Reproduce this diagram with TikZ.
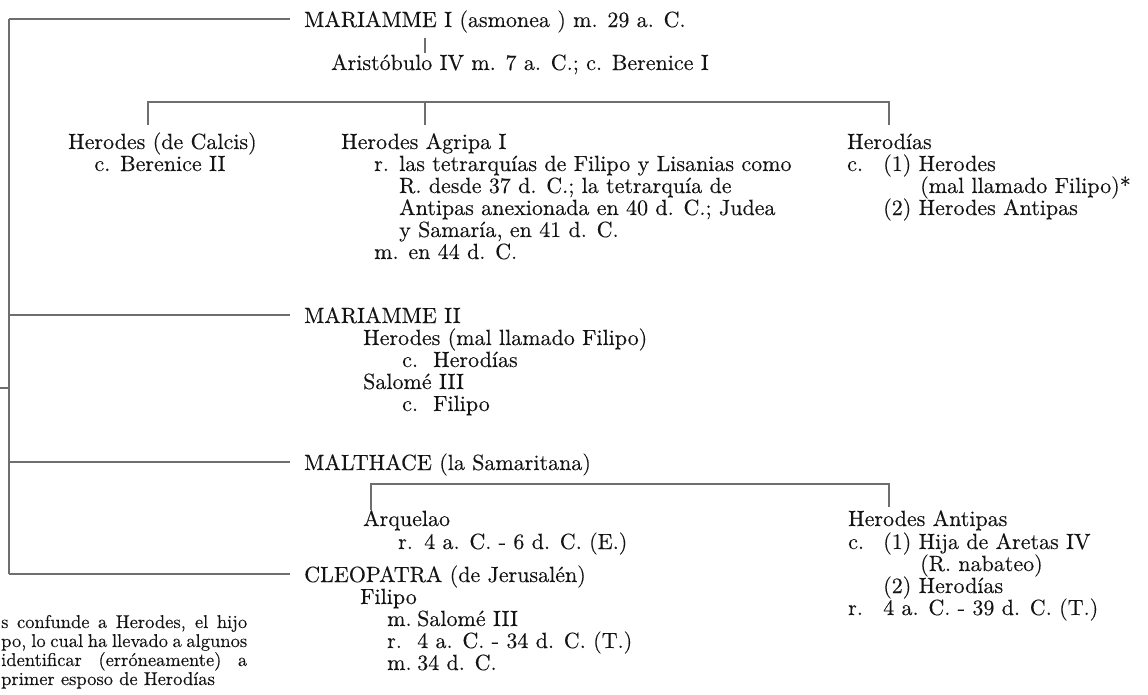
\documentclass[tikz,border=0pt]{standalone}
\usepackage{fontspec}
\setmainfont{lmroman10-regular}[Extension=.otf,FakeBold=0.25]
\definecolor{ln}{HTML}{6E6E6E}
\definecolor{tx}{HTML}{141414}
\begin{document}
\begin{tikzpicture}[x=1pt,y=-1pt,
  conn/.style={draw=ln,line width=1.9pt},
  thin/.style={draw=ln,line width=1.4pt},
  txt/.style={anchor=base west,inner sep=0pt,text=tx,font=\fontsize{22}{26}\selectfont},
  ctxt/.style={txt,anchor=base},
  note/.style={anchor=base west,inner sep=0pt,text=tx,font=\fontsize{18.5}{22}\selectfont}]
\useasboundingbox (0,0) rectangle (1148,694);

% ---- texts: Mariamme I branch
\node[txt] (m1) at (304,27) {MARIAMME I (asmonea ) m. 29 a. C.};
\node[txt] (ar) at (331,70) {Aristóbulo IV m. 7 a. C.; c. Berenice I};
\node[txt] (hc) at (68,149) {Herodes (de Calcis)};
\node[ctxt] (hc2) at (160,171) {c. Berenice II};
\node[txt] (ha) at (341,149) {Herodes Agripa I};
\node[txt] (har) at (374,171) {r.};
\node[txt] (ha1) at (399,171) {las tetrarquías de Filipo y Lisanias como};
\node[txt] (ha2) at (399,193) {R. desde 37 d. C.; la tetrarquía de};
\node[txt] (ha3) at (399,215) {Antipas anexionada en 40 d. C.; Judea};
\node[txt] (ha4) at (399,237) {y Samaría, en 41 d. C.};
\node[txt] (ham) at (374,259) {m. en 44 d. C.};
\node[txt] (hd) at (847,149) {Herodías};
\node[txt] (hdc) at (847,171) {c.};
\node[txt] (hd1) at (883,171) {(1) Herodes};
\node[txt] (hd1b) at (920,193) {(mal llamado Filipo)*};
\node[txt] (hd2) at (883,215) {(2) Herodes Antipas};

% ---- Mariamme II
\node[txt] (m2) at (304,323) {MARIAMME II};
\node[txt] (hf) at (363,345) {Herodes (mal llamado Filipo)};
\node[txt] (hfc) at (402,367) {c.};
\node[txt] (hfc2) at (433,367) {Herodías};
\node[txt] (sa) at (363,389) {Salomé III};
\node[txt] (sac) at (402,411) {c.};
\node[txt] (sac2) at (433,411) {Filipo};

% ---- Malthace
\node[txt] (m3) at (304,470) {MALTHACE (la Samaritana)};
\node[txt] (aq) at (363,526) {Arquelao};
\node[txt] (aqr) at (398,549) {r.};
\node[txt] (aq1) at (424,549) {4 a. C. - 6 d. C. (E.)};
\node[txt] (an) at (848,526) {Herodes Antipas};
\node[txt] (anc) at (848,549) {c.};
\node[txt] (an1) at (883,549) {(1) Hija de Aretas IV};
\node[txt] (an1b) at (920,571) {(R. nabateo)};
\node[txt] (an2) at (883,593) {(2) Herodías};
\node[txt] (anr) at (848,615) {r.};
\node[txt] (an3) at (883,615) {4 a. C. - 39 d. C. (T.)};

% ---- Cleopatra
\node[txt] (m4) at (304,582) {CLEOPATRA (de Jerusalén)};
\node[txt] (fi) at (360,604) {Filipo};
\node[txt] (fim) at (387,626) {m.};
\node[txt] (fi1) at (417,626) {Salomé III};
\node[txt] (fir) at (387,648) {r.};
\node[txt] (fi2) at (417,648) {4 a. C. - 34 d. C. (T.)};
\node[txt] (fim2) at (387,670) {m.};
\node[txt] (fi3) at (417,670) {34 d. C.};

% ---- footnote (justified lines at the left edge)
\node[note] (f1) at (1,628) {\makebox[246pt][s]{s confunde a Herodes, el hijo}};
\node[note] (f2) at (1,647) {\makebox[246pt][s]{po, lo cual ha llevado a algunos}};
\node[note] (f3) at (1,666) {\makebox[246pt][s]{identificar (erróneamente) a}};
\node[note] (f4) at (1,685) {primer esposo de Herodías};

% ---- connector points
\coordinate (sp1) at (9,19);
\coordinate (sp2) at (9,315);
\coordinate (sp3) at (9,462);
\coordinate (sp4) at (9,574);
\coordinate (stub) at (0,388);
\coordinate (stubj) at (9,388);
\coordinate (e1) at (290,19);
\coordinate (e2) at (290,315);
\coordinate (e3) at (290,462);
\coordinate (e4) at (290,574);
\coordinate (t1a) at (425,38);
\coordinate (t1b) at (425,53);
\coordinate (b1l) at (148,102);
\coordinate (b1m) at (425,102);
\coordinate (b1r) at (889,102);
\coordinate (b1ld) at (148,125);
\coordinate (b1md) at (425,125);
\coordinate (b1rd) at (889,125);
\coordinate (b2l) at (371,484);
\coordinate (b2r) at (889,484);
\coordinate (b2ld) at (371,510);
\coordinate (b2rd) at (889,507);

% ---- connectors
\draw[conn] (sp1) -- (sp4);
\draw[conn] (stub) -- (stubj);
\draw[conn] (sp1) -- (e1);
\draw[conn] (sp2) -- (e2);
\draw[conn] (sp3) -- (e3);
\draw[conn] (sp4) -- (e4);
\draw[thin] (t1a) -- (t1b);
\draw[conn] (b1ld) -- (b1l) -- (b1r) -- (b1rd);
\draw[thin] (b1m) -- (b1md);
\draw[conn] (b2ld) -- (b2l) -- (b2r) -- (b2rd);
\end{tikzpicture}
\end{document}
